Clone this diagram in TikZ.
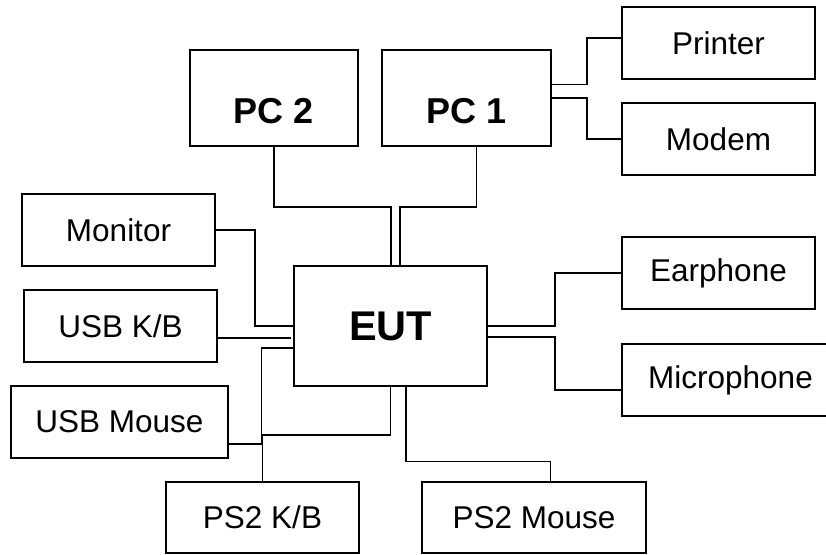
\documentclass[tikz,border=0pt]{standalone}
\usepackage{fontspec}
\setmainfont{Liberation Sans}
\begin{document}
\begin{tikzpicture}[x=1pt,y=-1pt,
  box/.style={draw, line width=1.6pt, rectangle, inner sep=0pt, minimum width=193pt, minimum height=72pt, font=\fontsize{31.5}{31.5}\selectfont},
  pcbox/.style={box, minimum width=168pt, minimum height=96pt, font=\fontsize{36}{36}\selectfont\bfseries, text height=50pt, text depth=0pt},
  wire/.style={line width=1.6pt}]
\useasboundingbox (0,0) rectangle (826,554);
\node[pcbox] (pc2) at (274,98) {PC 2};
\node[pcbox, minimum width=169pt] (pc1) at (466.5,98) {PC 1};
\node[box] (printer) at (718.5,43) {Printer};
\node[box] (modem) at (718.5,139) {Modem};
\node[box] (monitor) at (118.5,230) {Monitor};
\node[box] (usbkb) at (120.5,326) {USB K/B};
\node[box, minimum width=217pt] (usbmouse) at (119.5,422) {USB Mouse};
\node[box, minimum height=120pt, font=\fontsize{41.5}{41.5}\selectfont\bfseries] (eut) at (390.5,326) {EUT};
\node[box] (earphone) at (718.5,273) {Earphone};
\node[box, minimum width=217pt] (mic) at (730.5,380) {Microphone};
\node[box, minimum height=71pt] (ps2kb) at (262.5,517.5) {PS2 K/B};
\node[box, minimum width=224pt, minimum height=71pt] (ps2mouse) at (534,517.5) {PS2 Mouse};
% connectors
\draw[wire] (pc2.south) -- ++(0,60) -| ([xshift=0.5pt]eut.north);
\draw[wire] ([xshift=10pt]pc1.south) -- ++(0,60) -| ([xshift=9.5pt]eut.north);
\draw[wire] ([yshift=13.5pt]pc1.east) -- ++(35,0) |- ([yshift=5pt]printer.west);
\draw[wire] (pc1.east) -- ++(35,0) |- (modem.west);
\draw[wire] (monitor.east) -- ++(39,0) |- (eut.west);
\draw[wire] ([yshift=-12pt]usbkb.east) -- ([yshift=-12pt,xshift=-2pt]eut.west);
\draw[wire] ([yshift=-21.7pt]usbmouse.east) -- ++(32.7,0) |- ([yshift=-21.7pt]eut.west);
\draw[wire] (eut.south) -- ++(0,48.3) -| (ps2kb.north);
\draw[wire] ([xshift=15.5pt]eut.south) -- ++(0,74.7) -| ([xshift=16.3pt]ps2mouse.north);
\draw[wire] (eut.east) -- ++(67,0) |- (earphone.west);
\draw[wire] ([yshift=-10.7pt]eut.east) -- ++(67,0) |- ([yshift=-10pt]mic.west);
\end{tikzpicture}
\end{document}
